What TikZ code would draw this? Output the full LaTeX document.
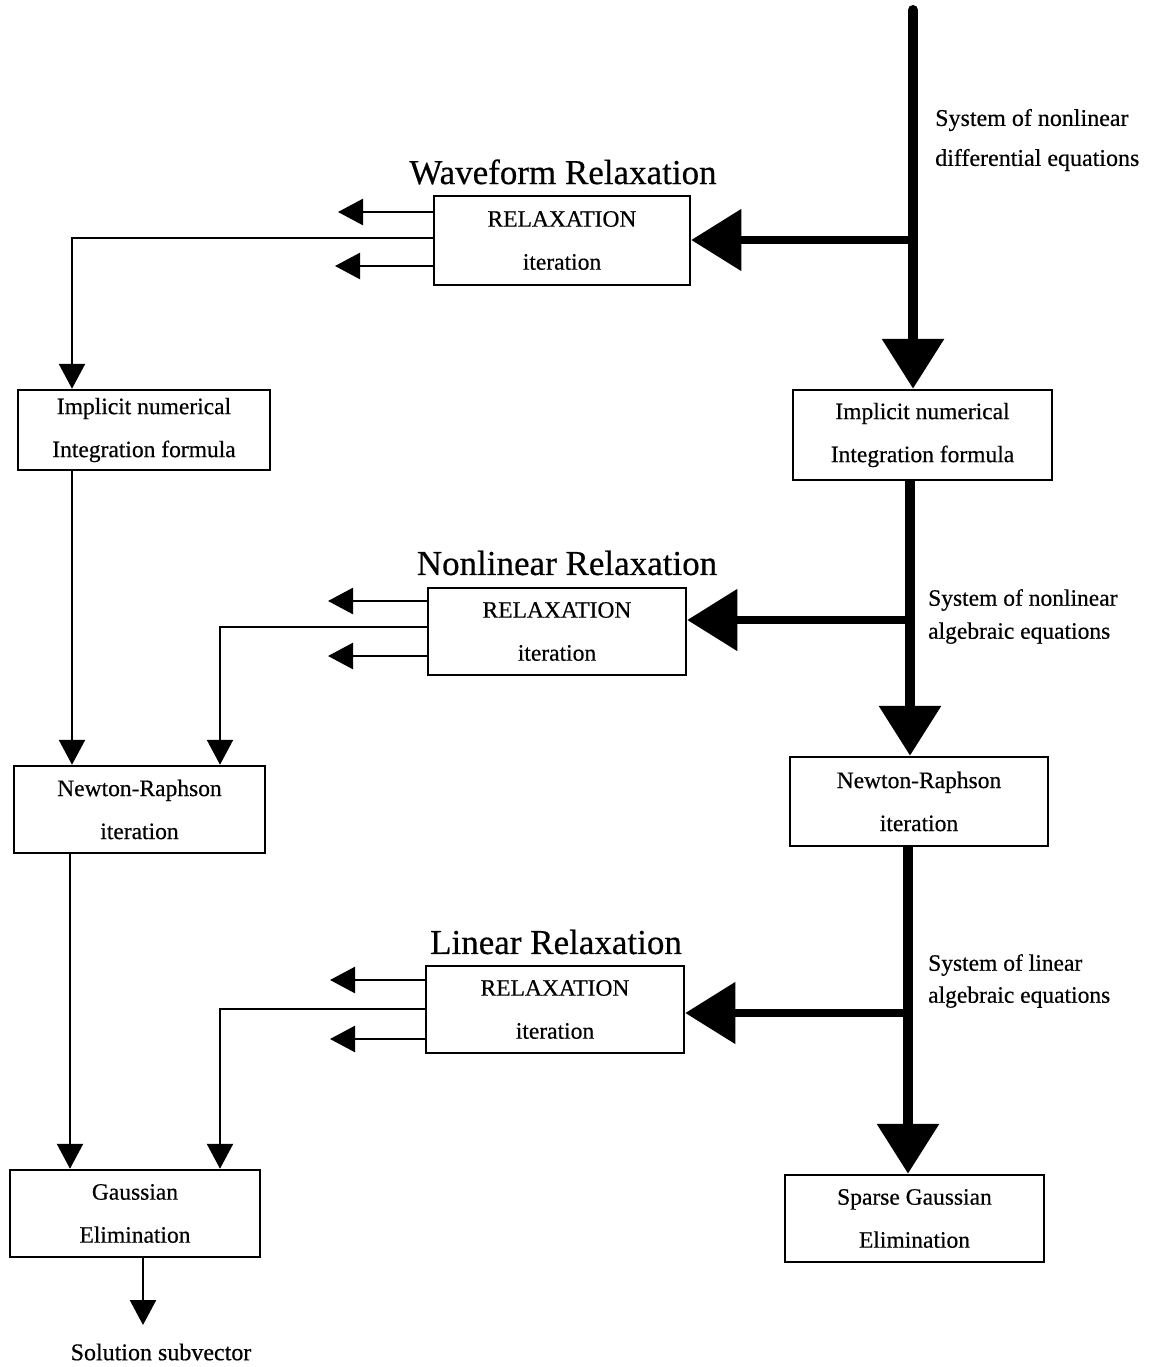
\documentclass[tikz,border=0pt]{standalone}
\usepackage{fontspec}
\setmainfont[FakeBold=0.5]{Liberation Serif}
\usetikzlibrary{arrows.meta}
\tikzset{
  box/.style={draw, line width=2.5pt, inner sep=0pt, align=center,
    font=\fontsize{23.5}{43}\selectfont},
  title/.style={font=\fontsize{35}{40}\selectfont},
  sidelabel/.style={anchor=west, align=left, inner sep=0pt},
  heavy/.style={line width=10pt, line cap=round, -{Triangle[width=60pt,length=50pt]}},
  thinarrow/.style={line width=2.5pt, -{Triangle[width=26pt,length=25pt]}},
}
\begin{document}
\begin{tikzpicture}[x=1pt,y=-1pt]
\useasboundingbox (0,0) rectangle (1166,1367);

% relaxation boxes
\node[box, minimum width=256pt, minimum height=89pt] (wr) at (562,240.5) {RELAXATION\\iteration};
\node[box, minimum width=258pt, minimum height=87pt] (nr) at (557,631.5) {RELAXATION\\iteration};
\node[box, minimum width=258pt, minimum height=87pt] (lr) at (555,1009.5) {RELAXATION\\iteration};

\node[title] (wrt) at (563,172) {Waveform Relaxation};
\node[title] (nrt) at (567,563) {Nonlinear Relaxation};
\node[title] (lrt) at (556,942) {Linear Relaxation};

% left column
\node[box, minimum width=252pt, minimum height=80pt] (L1) at (144,430) {Implicit numerical\\Integration formula};
\node[box, minimum width=251pt, minimum height=87pt] (L2) at (139.5,809.5) {Newton-Raphson\\iteration};
\node[box, minimum width=250pt, minimum height=87pt] (L3) at (135,1213.5) {Gaussian\\Elimination};

% right column
\node[box, minimum width=259pt, minimum height=90pt] (R1) at (922.5,435) {Implicit numerical\\Integration formula};
\node[box, minimum width=258pt, minimum height=89pt] (R2) at (919,801.5) {Newton-Raphson\\iteration};
\node[box, minimum width=259pt, minimum height=87pt] (R3) at (914.5,1218.5) {Sparse Gaussian\\Elimination};

% right-hand labels
\node[sidelabel, font=\fontsize{24}{40}\selectfont] (s1) at (935,140) {System of nonlinear\\differential equations};
\node[sidelabel, font=\fontsize{23.5}{33}\selectfont] (s2) at (928,616.5) {System of nonlinear\\algebraic equations};
\node[sidelabel, font=\fontsize{23.5}{32}\selectfont] (s3) at (928,981) {System of linear\\algebraic equations};

\node[font=\fontsize{24}{28}\selectfont] (sol) at (161,1352) {Solution subvector};

% main flow
\coordinate (top) at (913,10);
\coordinate (j1) at (913,240);
\coordinate (j2) at (910,620);
\coordinate (j3) at (908,1013);

\draw[heavy, -] (top) -- (j1);
\draw[heavy, line cap=butt] (j1) -- (j1 |- R1.north);
\draw[heavy, line cap=butt, line width=8pt] (j1) -- (j1 -| wr.east);

\draw[heavy, line cap=butt, -] (R1.south -| j2) -- (j2);
\draw[heavy, line cap=butt] (j2) -- (j2 |- R2.north);
\draw[heavy, line cap=butt, line width=8pt] (j2) -- (j2 -| nr.east);

\draw[heavy, line cap=butt, -] (R2.south -| j3) -- (j3);
\draw[heavy, line cap=butt] (j3) -- (j3 |- R3.north);
\draw[heavy, line cap=butt, line width=8pt] (j3) -- (j3 -| lr.east);

% outputs of the relaxation boxes
\coordinate (wa) at (338,212);
\coordinate (wb) at (335,266);
\coordinate (wl) at (72,238);
\draw[thinarrow] (wr.west |- wa) -- (wa);
\draw[thinarrow] (wr.west |- wb) -- (wb);
\draw[thinarrow] (wr.west |- wl) -- (wl) -- (wl |- L1.north);

\coordinate (na) at (328,601);
\coordinate (nb) at (328,656);
\coordinate (nl) at (220,627);
\draw[thinarrow] (nr.west |- na) -- (na);
\draw[thinarrow] (nr.west |- nb) -- (nb);
\draw[thinarrow] (nr.west |- nl) -- (nl) -- (nl |- L2.north);

\coordinate (la) at (330,980);
\coordinate (lb) at (330,1039);
\coordinate (ll) at (220,1009);
\draw[thinarrow] (lr.west |- la) -- (la);
\draw[thinarrow] (lr.west |- lb) -- (lb);
\draw[thinarrow] (lr.west |- ll) -- (ll) -- (ll |- L3.north);

% left column chain
\draw[thinarrow] (L1.south -| wl) -- (L2.north -| wl);
\coordinate (c2) at (70,0);
\draw[thinarrow] (L2.south -| c2) -- (L3.north -| c2);
\coordinate (c3) at (143,1325);
\draw[thinarrow] (L3.south -| c3) -- (c3);
\end{tikzpicture}
\end{document}
